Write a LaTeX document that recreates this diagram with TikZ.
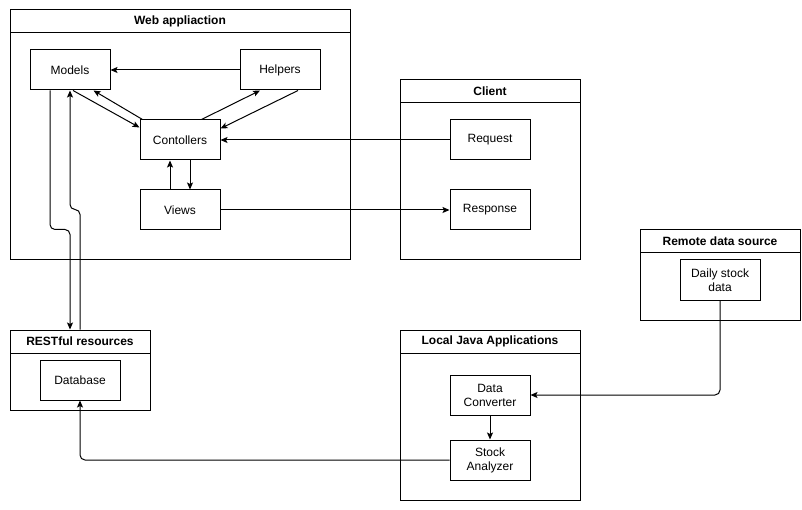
\documentclass[tikz,border=0pt]{standalone}
\usepackage{fontspec}
\setmainfont{Liberation Sans}
\usetikzlibrary{arrows.meta}

\begin{document}
\begin{tikzpicture}[x=1pt,y=-1pt,line width=1pt,
        font=\fontsize{12}{14}\selectfont,
        box/.style={draw,minimum width=80pt,minimum height=40pt,inner sep=0pt,align=center},%inner boxes
        frame/.style={draw,inner sep=0pt},
        head/.style={draw,inner sep=0pt,minimum height=23pt,anchor=north,font=\fontsize{12}{14}\selectfont\bfseries},
        arr/.style={-{Stealth[length=7pt,width=6pt,inset=1.5pt]}},
        rnd/.style={rounded corners=5pt}
        ]
\useasboundingbox (0,0) rectangle (802,510);
% containers
\node[frame,minimum width=340pt,minimum height=250pt] (web) at (180,135) {};
\node[head,minimum width=340pt] (webtitle) at (web.north) {Web appliaction};
\node[frame,minimum width=180pt,minimum height=180pt] (client) at (490,170) {};
\node[head,minimum width=180pt] (clienttitle) at (client.north) {Client};
\node[frame,minimum width=160pt,minimum height=90pt] (remote) at (720,275) {};
\node[head,minimum width=160pt] (remotetitle) at (remote.north) {Remote data source};
\node[frame,minimum width=140pt,minimum height=80pt] (rest) at (80,370) {};
\node[head,minimum width=140pt] (resttitle) at (rest.north) {RESTful resources};
\node[frame,minimum width=180pt,minimum height=170pt] (local) at (490,415) {};
\node[head,minimum width=180pt] (localtitle) at (local.north) {Local Java Applications};
% boxes
\node[box] (models) at (70,70) {Models};
\node[box] (helpers) at (280,70) {Helpers};
\node[box] (contollers) at (180,140) {Contollers};
\node[box] (views) at (180,210) {Views};
\node[box] (request) at (490,140) {Request};
\node[box] (response) at (490,210) {Response};
\node[box] (daily) at (720,280) {Daily stock\\data};
\node[box] (database) at (80,380) {Database};
\node[box] (converter) at (490,395) {Data\\Converter};
\node[box] (analyzer) at (490,460) {Stock\\Analyzer};
% connectors
\draw[arr] (helpers) -- (models);
\draw[arr] ([xshift=3pt]models.south) -- ([yshift=-8pt]contollers.north west);
\draw[arr] ([xshift=3pt]contollers.north west) -- ([xshift=-17pt]models.south east);
\draw[arr] ([xshift=-19pt]contollers.north east) -- ([xshift=-20pt]helpers.south);
\draw[arr] ([xshift=18pt]helpers.south) -- ([yshift=-9pt]contollers.north east);
\draw[arr] (request) -- (contollers);
\draw[arr] ([xshift=-10pt]views.north) -- ([xshift=-10pt]contollers.south);
\draw[arr] ([xshift=10pt]contollers.south) -- ([xshift=10pt]views.north);
\draw[arr] (views) -- (response);
\draw[arr,rnd] ([xshift=-20pt]models.south) -- ++(0,139) -| ([xshift=-10pt]rest.north);
\draw[arr,rnd] (rest.north) -- ++(0,-120) -| (models.south);
\draw[arr,rnd] (daily.south) |- (converter.east);
\draw[arr] (converter) -- (analyzer);
\draw[arr,rnd] (analyzer.west) -| (database.south);
\end{tikzpicture}
\end{document}
